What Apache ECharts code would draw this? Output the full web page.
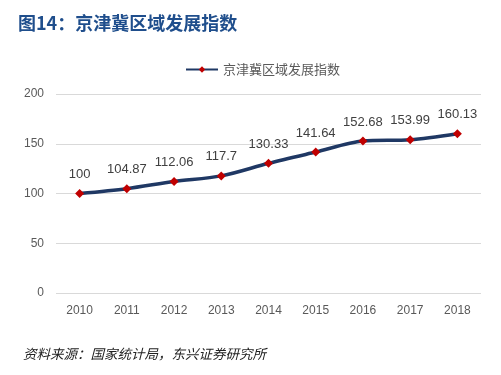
<!DOCTYPE html>
<html>
<head>
<meta charset="utf-8">
<script src="https://cdn.jsdelivr.net/npm/echarts@6/dist/echarts.min.js"></script>
<style>
  html, body { margin: 0; padding: 0; background: #fff; }
  #chart { width: 501px; height: 375px; }
</style>
</head>
<body>
<div id="chart"></div>
<script>
// 京津冀区域发展指数
const years = ["2010", "2011", "2012", "2013", "2014", "2015", "2016", "2017", "2018"];
const indexValues = [100, 104.87, 112.06, 117.7, 130.33, 141.64, 152.68, 153.99, 160.13];
const yTicks = [0, 50, 100, 150, 200];

const chart = echarts.init(document.getElementById("chart"));
chart.setOption({
  animation: false,
  title: [
    {
      text: "图14：京津冀区域发展指数",
      left: 13,
      top: 9,
      textStyle: { color: "#1f4e8c", fontSize: 18, fontWeight: "bold", fontFamily: "Noto Sans CJK SC" }
    },
    {
      text: "资料来源：国家统计局，东兴证券研究所",
      left: 18,
      top: 342,
      textStyle: { color: "#222", fontSize: 13.5, fontStyle: "italic", fontWeight: "normal", fontFamily: "Noto Sans CJK SC" }
    }
  ],
  legend: {
    top: 58,
    left: 180,
    itemWidth: 32,
    itemHeight: 8,
    itemGap: 4,
    textStyle: { color: "#595959", fontSize: 13, fontFamily: "Noto Sans CJK SC" },
    data: ["京津冀区域发展指数"]
  },
  grid: { left: 56, right: 20, top: 94, bottom: 82 },
  xAxis: {
    type: "category",
    data: years,
    axisLine: { show: false },
    axisTick: { show: false },
    axisLabel: { color: "#595959", fontSize: 12, margin: 12, fontFamily: "Liberation Sans" }
  },
  yAxis: {
    type: "value",
    min: yTicks[0],
    max: yTicks[yTicks.length - 1],
    interval: 50,
    axisLine: { show: false },
    axisTick: { show: false },
    axisLabel: { color: "#595959", fontSize: 12, margin: 12, fontFamily: "Liberation Sans" },
    splitLine: { lineStyle: { color: "#d9d9d9", width: 1 } }
  },
  series: [
    {
      name: "京津冀区域发展指数",
      type: "line",
      data: indexValues,
      smooth: 0.3,
      symbol: "diamond",
      symbolSize: 9,
      lineStyle: { color: "#1f3864", width: 3.5 },
      itemStyle: { color: "#c00000" },
      label: {
        show: true,
        position: "top",
        distance: 8,
        color: "#404040",
        fontSize: 13,
        fontFamily: "Liberation Sans"
      }
    }
  ]
});
</script>
</body>
</html>
